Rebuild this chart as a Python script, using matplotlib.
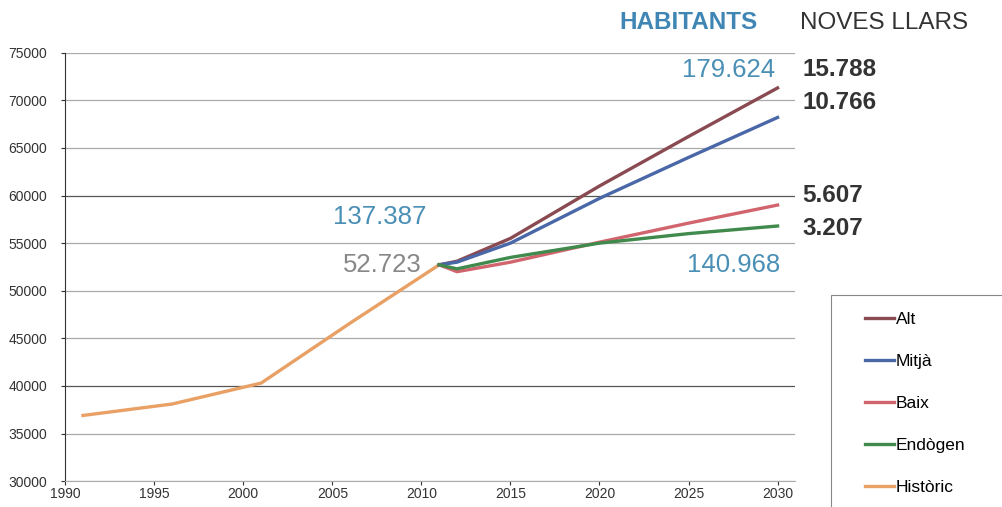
import matplotlib
matplotlib.use("Agg")
import matplotlib.pyplot as plt
from matplotlib.patches import Rectangle

plt.rcParams['font.family'] = ['Liberation Sans', 'DejaVu Sans']

# data
hist_years = [1991, 1996, 2001, 2006, 2011]
hist_vals = [36900, 38100, 40300, 46600, 52723]

proj_years = [2011, 2012, 2015, 2020, 2025, 2030]
alt = [52723, 53100, 55500, 61000, 66200, 71300]
mitja = [52723, 53000, 55000, 59700, 64000, 68200]
baix = [52723, 52000, 53000, 55100, 57100, 59000]
endogen = [52723, 52300, 53500, 55000, 56000, 56800]

series = [("Alt", alt, "#8a4a52"),
          ("Mitjà", mitja, "#4a68a8"),
          ("Baix", baix, "#d2646e"),
          ("Endògen", endogen, "#3f8a4c")]

xticks = list(range(1990, 2031, 5))
yticks = list(range(30000, 75001, 5000))

fig = plt.figure(figsize=(10.03, 5.07), dpi=100)
ax = fig.add_axes([0.065, 0.051, 0.728, 0.845])

for y in yticks:
    c = "#555555" if y in (40000, 60000) else "#aaaaaa"
    ax.axhline(y, color=c, lw=0.9, zorder=0)

lines = []
for name, vals, col in series:
    l, = ax.plot(proj_years, vals, color=col, lw=2.4, label=name, zorder=3)
    lines.append(l)
h, = ax.plot(hist_years, hist_vals, color="#e9a065", lw=2.4, label="Històric", zorder=2)
lines.append(h)

ax.set_xlim(1990, 2031)
ax.set_ylim(30000, 75000)
ax.set_xticks(xticks)
ax.set_yticks(yticks)
ax.tick_params(labelsize=10, length=3, color="#333333", labelcolor="#333333")
ax.tick_params(axis="y", pad=10)
ax.tick_params(axis="x", pad=1)
for s in ["top", "right"]:
    ax.spines[s].set_visible(False)
ax.spines["left"].set_color("#333333")
ax.spines["bottom"].set_color("#aaaaaa")

teal = "#4a8fb5"
fig.text(0.618, 0.955, "HABITANTS", color="#3f86b5", fontsize=17.5, fontweight="bold", va="center")
fig.text(0.798, 0.955, "NOVES LLARS", color="#333333", fontsize=17.5, va="center")

fig.text(0.773, 0.862, "179.624", color=teal, fontsize=18.5, ha="right", va="center")
fig.text(0.8, 0.862, "15.788", color="#333333", fontsize=17.5, fontweight="bold", va="center")
fig.text(0.8, 0.797, "10.766", color="#333333", fontsize=17.5, fontweight="bold", va="center")
fig.text(0.8, 0.615, "5.607", color="#333333", fontsize=17.5, fontweight="bold", va="center")
fig.text(0.8, 0.55, "3.207", color="#333333", fontsize=17.5, fontweight="bold", va="center")
fig.text(0.332, 0.572, "137.387", color=teal, fontsize=18.5, va="center")
fig.text(0.342, 0.477, "52.723", color="#888888", fontsize=18.5, va="center")
fig.text(0.685, 0.477, "140.968", color=teal, fontsize=18.5, va="center")

# legend box runs off the right and bottom edges
fig.patches.append(Rectangle((0.829, -0.05), 0.2, 0.468, transform=fig.transFigure,
                             fill=False, edgecolor="#888888", lw=0.8))
leg = fig.legend(handles=lines, loc="upper left", bbox_to_anchor=(0.862, 0.385),
                 fontsize=12.5, frameon=False, handlelength=1.7,
                 handletextpad=0.1, labelspacing=1.55, borderpad=0,
                 borderaxespad=0)

fig.savefig("out.png", dpi=100)
